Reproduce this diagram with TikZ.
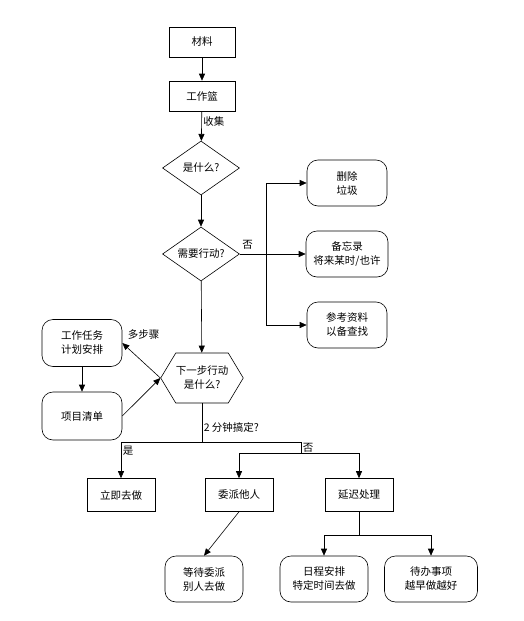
\documentclass[tikz,border=0pt]{standalone}
\usepackage{fontspec}
\newfontfamily\cjk{Noto Sans CJK SC}
\usetikzlibrary{positioning,calc,shapes.geometric,shapes.symbols,arrows.meta}

\begin{document}
\begin{tikzpicture}[x=1pt, y=-1pt,
  font=\cjk\fontsize{10.5}{14}\selectfont, line width=0.6pt,
  box/.style={draw, minimum width=66pt, minimum height=30pt, inner sep=2pt, align=center},
  rbox/.style={draw, rounded corners=11pt, minimum width=80pt, minimum height=46pt, inner sep=2pt, align=center},
  dec/.style={draw, diamond, aspect=1.4, minimum width=77pt, minimum height=54pt, inner sep=0pt},
  hexa/.style={draw, signal, signal to=west and east, signal pointer angle=118, minimum width=80pt, minimum height=50pt, inner sep=0pt, align=center},
  arr/.style={-{Triangle[length=7pt,width=6pt]}},
  lab/.style={inner sep=1.5pt}]
\useasboundingbox (0,0) rectangle (524,621);

% main column: collect and decide
\node[box] (mat) at (202,42) {材料};
\node[box] (bskt) at (202,96) {工作篮};
\node[dec] (what) at (201,168) {是什么?};
\node[dec] (act) at (201,254) {需要行动?};
\draw[arr] (mat) -- (bskt);
\draw[arr] (bskt) -- node[lab, right, pos=0.35] {收集} (what);
\draw[arr] (what) -- (act);

% right column: no action needed
\node[rbox] (trash) at (347,183) {删除\\垃圾};
\node[rbox, minimum width=82pt] (memo) at (347,254) {备忘录\\将来某时/也许};
\node[rbox] (ref) at (347,325) {参考资料\\以备查找};
\draw (act.east) -- node[lab, above, pos=0.3, yshift=3pt] {否} ++(26,0) coordinate (sp);
\draw[arr] (sp) |- (trash.west);
\draw[arr] (sp) -- (memo.west);
\draw[arr] (sp) |- (ref.west);

% next step and projects
\node[hexa] (next) at (202,378) {下一步行动\\是什么?};
\node[rbox, minimum height=47pt] (plan) at (82,343) {工作任务\\计划安排};
\node[rbox, minimum height=48pt] (proj) at (82,416) {项目清单};
\draw[arr] (act) -- (next);
\draw[arr] (next.west) -- node[lab, anchor=south west, pos=0.9, yshift=5pt] {多步骤} (plan.east);
\draw[arr] (plan) -- (proj);
\draw[arr] (proj.east) -- (next.west);

% two minute rule
\node[box, minimum width=68pt, minimum height=33pt] (now) at (121,495) {立即去做};
\node[box, minimum width=68pt, minimum height=33pt] (dlg) at (239,495) {委派他人};
\node[box, minimum width=68pt, minimum height=33pt] (defer) at (359,495) {延迟处理};
\draw (next.south) -- node[lab, right, pos=0.62] {2 分钟搞定?} ++(0,39) coordinate (q);
\draw[arr] (q) -| node[lab, right, pos=0.62] {是} (now.north);
\draw (q) -- ++(99,0) -- node[lab, right] {否} ++(0,11) coordinate (r);
\draw[arr] (r) -| (dlg.north);
\draw[arr] (r) -| (defer.north);

% bottom row
\node[rbox, minimum width=78pt] (wait) at (204,579) {等待委派\\别人去做};
\node[rbox, minimum width=88pt] (cal) at (324,579) {日程安排\\特定时间去做};
\node[rbox, minimum width=93pt] (todo) at (431,579) {待办事项\\越早做越好};
\draw[arr] (dlg.south) -- (wait.north);
\draw (defer.south) -- ++(0,23) coordinate (t);
\draw[arr] (t) -| (cal.north);
\draw[arr] (t) -| (todo.north);
\end{tikzpicture}
\end{document}
